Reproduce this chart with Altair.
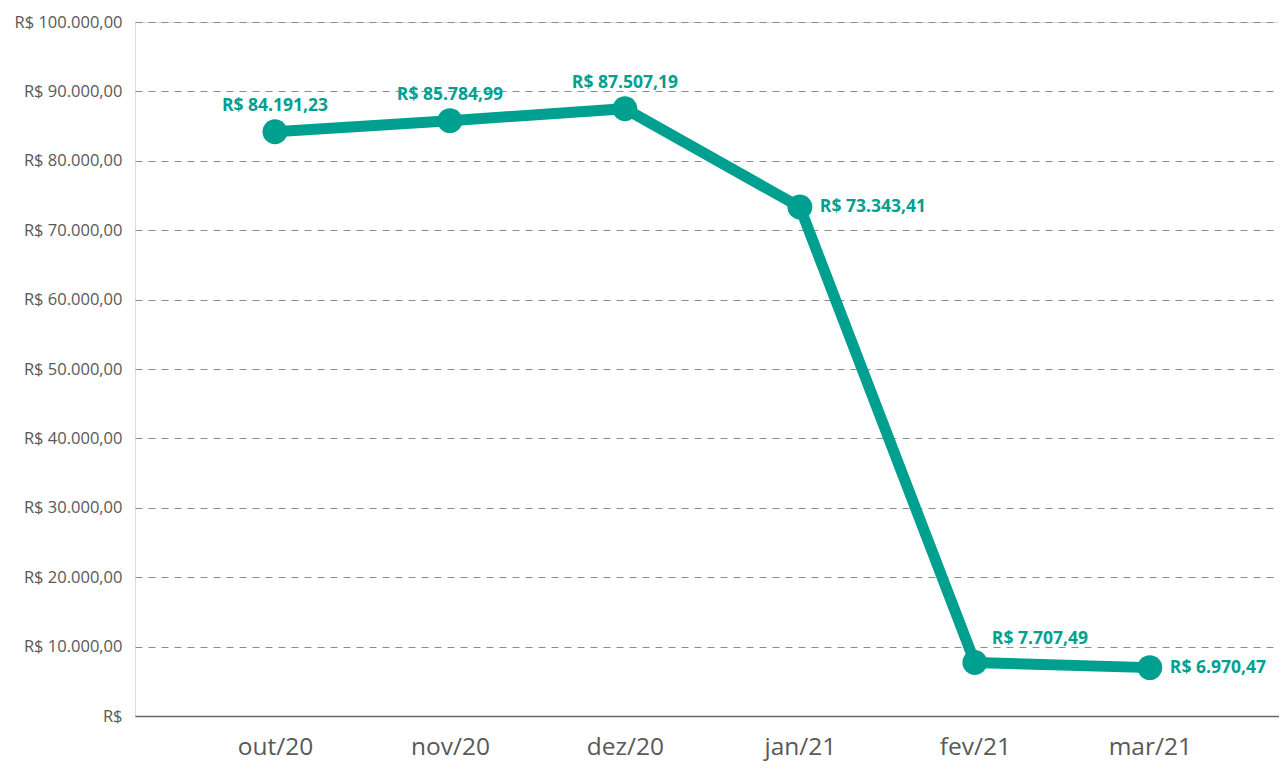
import altair as alt
import pandas as pd

months = ["out/20", "nov/20", "dez/20", "jan/21", "fev/21", "mar/21"]
values = [84191.23, 85784.99, 87507.19, 73343.41, 7707.49, 6970.47]
label_pos = ["above", "above", "above", "right", "upright", "right"]


def brl(v):
    s = f"{v:,.2f}".replace(",", "_").replace(".", ",").replace("_", ".")
    return "R$ " + s


df = pd.DataFrame({
    "mes": months,
    "valor": values,
    "rotulo": [brl(v) for v in values],
    "pos": label_pos,
})

TEAL = "#00A090"
GRAY = "#595959"
FONT = "Open Sans"

x = alt.X("mes:N", sort=months, title=None,
          scale=alt.Scale(type="point", padding=0.769, align=0.52),
          axis=alt.Axis(labelAngle=0, labelFontSize=24.5, labelColor=GRAY, labelFont=FONT,
                        ticks=False, domain=True, domainColor="#666666", domainWidth=1.5,
                        labelPadding=19, grid=False))
y = alt.Y("valor:Q", title=None,
          scale=alt.Scale(domain=[0, 100000], nice=False),
          axis=alt.Axis(values=list(range(0, 100001, 10000)), labelFontSize=16.5,
                        labelColor=GRAY, labelFont=FONT, ticks=False, domain=False,
                        labelPadding=13, grid=True, gridColor="#8c8c8c",
                        gridDash=[7, 6], gridWidth=1,
                        labelExpr="datum.value == 0 ? 'R$' : 'R$ ' + replace(replace(replace(format(datum.value, ',.2f'), regexp(',', 'g'), '_'), regexp('\\\\.', 'g'), ','), regexp('_', 'g'), '.')"))

base = alt.Chart(df).encode(x=x, y=y)

line = base.mark_line(color=TEAL, strokeWidth=11)
pts = base.mark_circle(color=TEAL, size=620, opacity=1)

txt_style = dict(color=TEAL, fontSize=17.5, fontWeight="bold", font=FONT)
above = base.transform_filter("datum.pos == 'above'").mark_text(
    align="center", baseline="bottom", dy=-17, **txt_style).encode(text="rotulo:N")
right = base.transform_filter("datum.pos == 'right'").mark_text(
    align="left", baseline="middle", dx=20, **txt_style).encode(text="rotulo:N")
upright = base.transform_filter("datum.pos == 'upright'").mark_text(
    align="left", baseline="middle", dx=17, dy=-24, **txt_style).encode(text="rotulo:N")

chart = alt.layer(line, pts, above, right, upright).properties(
    width=1144, height=694,
    autosize=alt.AutoSizeParams(type="none"),
    padding={"left": 127, "top": 14, "right": 0, "bottom": 46},
).configure_view(stroke=None).configure(background="white")

chart.save("out.html", embed_options={"renderer": "svg", "actions": False})
